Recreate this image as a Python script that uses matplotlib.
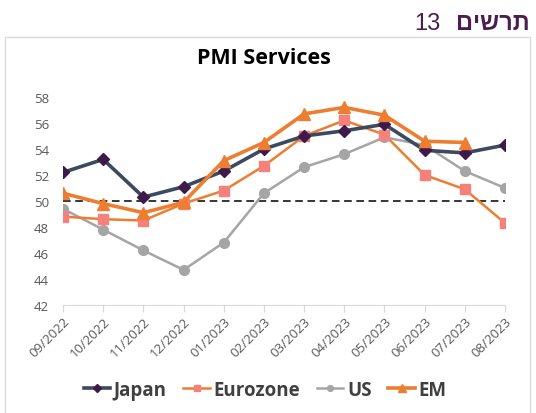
import matplotlib.pyplot as plt
from matplotlib.patches import Rectangle

months = ["09/2022", "10/2022", "11/2022", "12/2022", "01/2023", "02/2023",
          "03/2023", "04/2023", "05/2023", "06/2023", "07/2023", "08/2023"]
japan = [52.2, 53.2, 50.3, 51.1, 52.3, 54.0, 55.0, 55.4, 55.9, 53.9, 53.7, 54.3]
eurozone = [48.8, 48.6, 48.5, 49.8, 50.8, 52.7, 55.0, 56.2, 55.1, 52.0, 50.9, 48.3]
us = [49.4, 47.8, 46.2, 44.7, 46.8, 50.6, 52.6, 53.6, 54.9, 54.3, 52.3, 51.0]
em = [50.6, 49.8, 49.1, 49.9, 53.1, 54.5, 56.7, 57.2, 56.6, 54.6, 54.5]
yticks = [42, 44, 46, 48, 50, 52, 54, 56, 58]

plt.rcParams['font.family'] = ['Open Sans', 'DejaVu Sans']

fig = plt.figure(figsize=(5.36, 4.14), dpi=100)

# frame around the chart
fig.patches.append(Rectangle((5/536, -0.01), 525/536, 1 - 38/414 + 0.01,
                             transform=fig.transFigure, fill=False,
                             edgecolor="#d9d9d9", linewidth=1.0))

# header (hebrew drawn in visual order)
fig.text(530/536, 1 - 24/414, "םישרת", ha="right", va="center",
         fontsize=17, fontweight="bold", color="#4b1e4e", family="Liberation Sans")
fig.text(441/536, 1 - 24/414, "13", ha="right", va="center",
         fontsize=17, color="#4b1e4e", family="Liberation Sans")

ax = fig.add_axes([63/536, 1 - 306/414, 442/536, 208/414])
x = list(range(len(months)))

ax.axhline(50, color="black", linestyle=(0, (5, 3)), linewidth=1.1, zorder=1)
ax.plot(x, us, color="#a5a5a5", linewidth=1.8, marker="o", markersize=7,
        markerfacecolor="#a5a5a5", markeredgecolor="#a5a5a5", label="US", zorder=2)
ax.plot(x, eurozone, color="#ed7d31", linewidth=1.8, marker="s", markersize=7,
        markerfacecolor="#f4817a", markeredgecolor="#f4817a", label="Eurozone", zorder=3)
ax.plot(x, japan, color="#3b4a5e", linewidth=2.6, marker="D", markersize=6.5,
        markerfacecolor="#3d1a4a", markeredgecolor="#3d1a4a", label="Japan", zorder=4)
ax.plot(x[:len(em)], em, color="#ed7d31", linewidth=2.6, marker="^", markersize=8.5,
        markerfacecolor="#ed7d31", markeredgecolor="#ed7d31", label="EM", zorder=5)

ax.set_xlim(0, len(months) - 1)
ax.set_ylim(42, 58)
ax.set_yticks(yticks)
ax.set_xticks(x)
ax.set_xticklabels(months, rotation=45, ha="right", rotation_mode="anchor")
ax.tick_params(axis="y", length=0, labelsize=9.5, labelcolor="#595959", pad=10)
ax.tick_params(axis="x", length=5, color="#d9d9d9", labelsize=9.5,
               labelcolor="#595959", pad=2)
for s in ["top", "right", "left"]:
    ax.spines[s].set_visible(False)
ax.spines["bottom"].set_color("#d9d9d9")

fig.text(264/536, 1 - 58/414, "PMI Services", ha="center", va="center",
         fontsize=15.5, fontweight="bold", color="black")

handles, labels = ax.get_legend_handles_labels()
order = [2, 1, 0, 3]
fig.legend([handles[i] for i in order], [labels[i] for i in order],
           loc="center", bbox_to_anchor=(265/536, 1 - 391/414), ncol=4,
           frameon=False, handlelength=1.4, handletextpad=0.2, columnspacing=0.9,
           prop={"weight": "bold", "size": 13.5}, labelcolor="#404040",
           markerscale=0.6)

fig.savefig("out.png", dpi=100)
